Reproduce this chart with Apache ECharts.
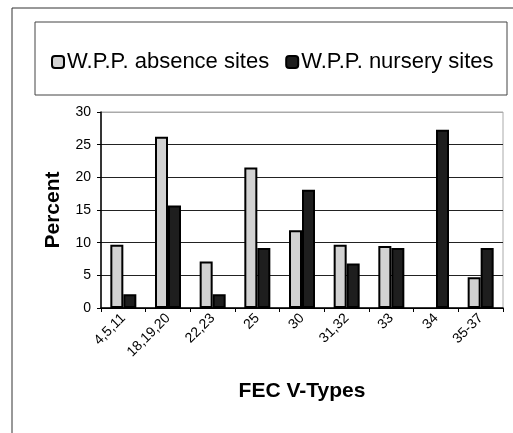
<!DOCTYPE html>
<html>

<head>
    <meta charset="utf-8">
    <title>FEC V-Types</title>
    <style>
        html, body { margin: 0; padding: 0; background: #fff; }
        #main { width: 513px; height: 433px; }
    </style>
</head>

<body>
    <div id="main"></div>
    <script type="text/javascript" src="https://cdn.jsdelivr.net/npm/echarts@6/dist/echarts.min.js"></script>
    <script type="text/javascript">
    // data (null = no bar drawn)
    var categories = ['4,5,11', '18,19,20', '22,23', '25', '30', '31,32', '33', '34', '35-37'];
    var absenceSites = [9.7, 26.2, 7.1, 21.5, 11.9, 9.7, 9.5, null, 4.7];
    var nurserySites = [2.1, 15.7, 2.1, 9.2, 18.1, 6.8, 9.2, 27.3, 9.2];
    var yTicks = { min: 0, max: 30, interval: 5 };

    var myChart = echarts.init(document.getElementById('main'));
    var font = 'Liberation Sans, Arial, sans-serif';

    var option = {
        animation: false,
        textStyle: { fontFamily: font, color: '#000' },
        // outer chart frame and legend box
        graphic: [
            {
                type: 'rect',
                shape: { x: 12, y: 8, width: 520, height: 440 },
                style: { fill: 'none', stroke: '#333', lineWidth: 1 }
            },
            {
                type: 'rect',
                shape: { x: 35, y: 22, width: 472, height: 73 },
                style: { fill: 'none', stroke: '#444', lineWidth: 1 }
            }
        ],
        legend: {
            top: 46,
            left: 46,
            itemWidth: 12,
            itemHeight: 12,
            itemGap: 16,
            textStyle: { fontSize: 22, fontFamily: font, color: '#000', padding: [0, 0, 0, -2] },
            data: ['W.P.P. absence sites', 'W.P.P. nursery sites']
        },
        grid: {
            left: 101,
            right: 10,
            top: 112,
            bottom: 125,
            show: true,
            borderColor: '#aaa',
            borderWidth: 1
        },
        xAxis: {
            type: 'category',
            data: categories,
            name: 'FEC V-Types',
            nameLocation: 'middle',
            nameGap: 73,
            nameTextStyle: { fontSize: 21, fontWeight: 'bold', fontFamily: font, color: '#000' },
            axisLine: { lineStyle: { color: '#000', width: 1.5 } },
            axisTick: { show: true, length: 4, lineStyle: { color: '#000' } },
            axisLabel: { rotate: 45, fontSize: 14, color: '#000', margin: 8 }
        },
        yAxis: {
            type: 'value',
            min: yTicks.min,
            max: yTicks.max,
            interval: yTicks.interval,
            name: 'Percent',
            nameLocation: 'middle',
            nameGap: 37,
            nameTextStyle: { fontSize: 21, fontWeight: 'bold', fontFamily: font, color: '#000' },
            axisLine: { show: true, lineStyle: { color: '#000', width: 1.5 } },
            axisTick: { show: true, length: 4, lineStyle: { color: '#000' } },
            axisLabel: { fontSize: 14, color: '#000', margin: 10 },
            splitLine: {
                lineStyle: {
                    color: ['#000', '#222', '#222', '#222', '#222', '#222', '#aaa'],
                    width: 1
                }
            }
        },
        series: [
            {
                name: 'W.P.P. absence sites',
                type: 'bar',
                barWidth: 13,
                barGap: '0%',
                itemStyle: { color: '#d2d2d2', borderColor: '#000', borderWidth: 2 },
                data: absenceSites
            },
            {
                name: 'W.P.P. nursery sites',
                type: 'bar',
                barWidth: 13,
                itemStyle: { color: '#1e1e1e', borderColor: '#000', borderWidth: 2 },
                data: nurserySites
            }
        ]
    };

    myChart.setOption(option);
    </script>
</body>

</html>
